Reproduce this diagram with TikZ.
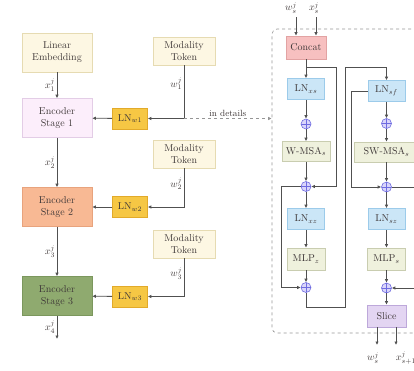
\documentclass[tikz,border=0pt]{standalone}
\usetikzlibrary{arrows.meta,calc}

\definecolor{txt}{HTML}{3F3838}
\definecolor{linec}{HTML}{505050}
\definecolor{creamf}{HTML}{FDF7E3}
\definecolor{creamd}{HTML}{E6DBB2}
\definecolor{stOnef}{HTML}{FCEEFB}
\definecolor{stOned}{HTML}{E3CDE6}
\definecolor{stTwof}{HTML}{F8B994}
\definecolor{stTwod}{HTML}{E8A37D}
\definecolor{stThreef}{HTML}{8FAA6F}
\definecolor{stThreed}{HTML}{7B975D}
\definecolor{lnwf}{HTML}{F6C744}
\definecolor{lnwd}{HTML}{E2AA2A}
\definecolor{catf}{HTML}{F7C0C0}
\definecolor{catd}{HTML}{E2A3A3}
\definecolor{lnf}{HTML}{CBE6F7}
\definecolor{lnd}{HTML}{9CCBEA}
\definecolor{msaf}{HTML}{EFF1DD}
\definecolor{msad}{HTML}{C9CDB0}
\definecolor{slicef}{HTML}{E3D5F2}
\definecolor{sliced}{HTML}{BDA8DA}
\definecolor{plusf}{HTML}{DAD6FB}
\definecolor{plusd}{HTML}{6E6BE0}
\definecolor{framec}{HTML}{959595}

\begin{document}
\begin{tikzpicture}[x=1pt,y=-1pt,
  font=\fontsize{10}{12}\selectfont, text=txt,
  box/.style={draw, line width=0.6pt, align=center, inner sep=1pt},
  embbox/.style={box, fill=creamf, draw=creamd, minimum width=70pt, minimum height=39pt},
  tokbox/.style={box, fill=creamf, draw=creamd, minimum width=62pt, minimum height=28pt},
  stagebox/.style={box, minimum width=70pt, minimum height=39pt},
  lnwbox/.style={box, fill=lnwf, draw=lnwd, minimum width=35pt, minimum height=21pt},
  catbox/.style={box, fill=catf, draw=catd, minimum width=40pt, minimum height=23pt},
  lnbox/.style={box, fill=lnf, draw=lnd, minimum width=37pt, minimum height=21pt},
  msabox/.style={box, fill=msaf, draw=msad, minimum width=48pt, minimum height=20pt},
  slicebox/.style={box, fill=slicef, draw=sliced, minimum width=39pt, minimum height=22pt},
  plusnode/.style={circle, draw=plusd, fill=plusf, line width=0.6pt, minimum size=10pt, inner sep=0pt,
    path picture={\draw[plusd, line width=0.6pt]
      (path picture bounding box.north) -- (path picture bounding box.south)
      (path picture bounding box.west) -- (path picture bounding box.east);}},
  arr/.style={draw=linec, line width=0.8pt, -{Latex[length=3.5pt,width=3.5pt]}},
  lbl/.style={inner sep=1.5pt, text=txt},
]
\useasboundingbox (0,0) rectangle (414,370);
\clip (0,0) rectangle (414,370);

% ---------- detail frame ----------
\node[draw=framec, dashed, line width=0.6pt, rounded corners=5pt,
      minimum width=150pt, minimum height=304pt, inner sep=0pt] (frame) at (347,181) {};

% ---------- encoder stack ----------
\node[embbox] (emb) at (57,52.5) {Linear\\Embedding};
\node[stagebox, fill=stOnef, draw=stOned] (s1) at (57,118) {Encoder\\Stage 1};
\node[stagebox, fill=stTwof, draw=stTwod] (s2) at (57,207) {Encoder\\Stage 2};
\node[stagebox, fill=stThreef, draw=stThreed] (s3) at (57,296) {Encoder\\Stage 3};
\coordinate (xout) at (57,339);

\node[lnwbox] (lw1) at (130,118.5) {LN$_{w1}$};
\node[lnwbox] (lw2) at (130,207) {LN$_{w2}$};
\node[lnwbox] (lw3) at (130,296.5) {LN$_{w3}$};

\node[tokbox] (t1) at (184,51) {Modality\\Token};
\node[tokbox] (t2) at (184,154) {Modality\\Token};
\node[tokbox] (t3) at (184,244) {Modality\\Token};

\draw[arr] (emb) -- node[lbl, left] {$x_1^j$} (s1);
\draw[arr] (s1) -- node[lbl, left] {$x_2^j$} (s2);
\draw[arr] (s2) -- node[lbl, left] {$x_3^j$} (s3);
\draw[arr] (s3) -- node[lbl, left, pos=0.5] {$x_4^j$} (xout);

\draw[arr] (lw1) -- (s1);
\draw[arr] (lw2) -- (s2);
\draw[arr] (lw3) -- (s3);

\coordinate (j1) at (t1.south |- lw1.east);
\coordinate (j2) at (t2.south |- lw2.east);
\coordinate (j3) at (t3.south |- lw3.east);
\draw[arr] (t1.south) -- node[lbl, left, pos=0.35] {$w_1^j$} (j1) -- (lw1.east);
\draw[arr] (t2.south) -- node[lbl, left, pos=0.4] {$w_2^j$} (j2) -- (lw2.east);
\draw[arr] (t3.south) -- node[lbl, left, pos=0.4] {$w_3^j$} (j3) -- (lw3.east);

\draw[draw=framec, dashed, line width=0.6pt, -{Latex[length=3.5pt,width=3.5pt]}]
  (j1) -- node[lbl, above, text=txt, font=\fontsize{9}{11}\selectfont] {in details} (frame.west |- j1);

% ---------- transformer block details ----------
\node[lbl] (ws) at (291,8) {$w_s^j$};
\node[lbl] (xs) at (314,8) {$x_s^j$};
\coordinate (wsin) at (296,17);
\coordinate (xsin) at (316,17);
\node[catbox] (cat) at (306,47.5) {Concat};
\draw[arr] (wsin) -- (cat.north -| wsin);
\draw[arr] (xsin) -- (cat.north -| xsin);

% first block (window attention)
\node[lnbox] (lxs) at (306,89) {LN$_{xs}$};
\node[plusnode] (p1) at (306,124) {};
\node[msabox] (wmsa) at (306,151.5) {W-MSA$_s$};
\node[plusnode] (p2) at (306,186.5) {};
\node[lnbox] (lxz) at (306,219) {LN$_{xz}$};
\node[msabox, minimum width=38pt, minimum height=22pt] (mlpz) at (306,259) {MLP$_z$};
\node[plusnode] (p3) at (306,287.5) {};

% second block (shifted window attention)
\node[lnbox] (lsf) at (386.5,91) {LN$_{sf}$};
\node[plusnode] (p4) at (386.5,123.5) {};
\node[msabox, minimum width=64pt] (swmsa) at (386.5,152) {SW-MSA$_s$};
\node[plusnode] (p5) at (386.5,187) {};
\node[lnbox] (lsz) at (386.5,219) {LN$_{sz}$};
\node[msabox, minimum width=38pt, minimum height=22pt] (mlps) at (386.5,259) {MLP$_s$};
\node[plusnode] (p6) at (386.5,288) {};
\node[slicebox] (slice) at (386.5,316) {Slice};

% main paths
\draw[arr] (cat) -- (lxs);
\draw[arr] (lxs) -- (p1);
\draw[arr] (p1) -- (wmsa);
\draw[arr] (wmsa) -- (p2);
\draw[arr] (p2) -- (lxz);
\draw[arr] (lxz) -- (mlpz);
\draw[arr] (mlpz) -- (p3);

\draw[arr] (lsf) -- (p4);
\draw[arr] (p4) -- (swmsa);
\draw[arr] (swmsa) -- (p5);
\draw[arr] (p5) -- (lsz);
\draw[arr] (lsz) -- (mlps);
\draw[arr] (mlps) -- (p6);
\draw[arr] (p6) -- (slice);

% residual connections
\coordinate (r1a) at (306,67);
\coordinate (r1b) at (336,67);
\draw[arr] (r1a) -- (r1b) |- (p2.east);

\coordinate (r2) at (281,186.5);
\draw[arr] (p2.west) -- (r2) |- (p3.west);

\coordinate (r3) at (351,91);
\draw[arr] (lsf.west) -- (r3) |- (p5.west);

\coordinate (r4) at (424,187);
\draw[arr] (p5.east) -- (r4) |- (p6.east);

% hand-over from first block to second block
\coordinate (c1) at (306,307);
\coordinate (c2) at (345,307);
\coordinate (c3) at (345,67);
\draw[arr] (p3.south) -- (c1) -- (c2) -- (c3) -| (lsf.north);

% outputs
\coordinate (o1) at (377,345);
\coordinate (o2) at (396,345);
\draw[arr] (slice.south -| o1) -- (o1);
\draw[arr] (slice.south -| o2) -- (o2);
\node[lbl] (lo1) at (373,358) {$w_s^j$};
\node[lbl] (lo2) at (406,358) {$x_{s+1}^j$};
\end{tikzpicture}
\end{document}
